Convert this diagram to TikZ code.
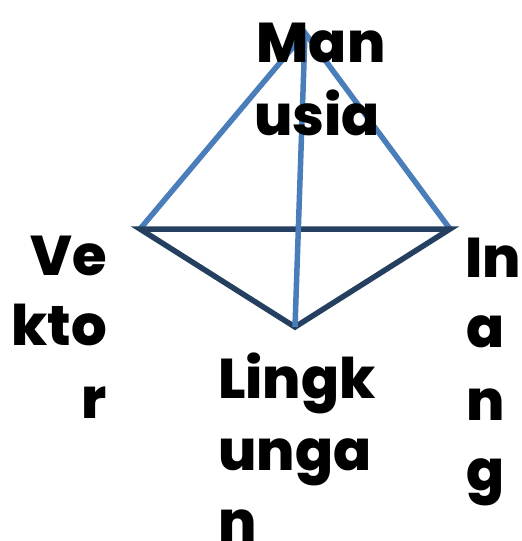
\documentclass[tikz,border=0pt]{standalone}
\usepackage{fontspec}
\setmainfont{Poppins}[BoldFont=* ExtraBold]
\definecolor{edgeblue}{HTML}{4A7EBB}
\definecolor{edgenavy}{HTML}{243F60}
\begin{document}
\begin{tikzpicture}[x=1pt,y=-1pt,
  blueline/.style={draw=edgeblue,line width=5.5pt,line cap=butt,line join=miter},
  navyline/.style={draw=edgenavy,line width=5.5pt,line join=miter},
  lbl/.style={inner sep=0pt,font=\fontsize{56}{72}\selectfont\bfseries,text=black}]
\useasboundingbox (0,0) rectangle (522,541);
\coordinate (apex) at (305,33);
\coordinate (L) at (140,229);
\coordinate (R) at (450,229);
\coordinate (B) at (295,327);
\draw[blueline] (L) -- (apex) -- (R);
\draw[navyline] (L) -- (R) -- (B) -- cycle;
\draw[blueline] (apex) -- (B);
% Manusia
\node[lbl,anchor=base] (man1) at (321,62) {Man};
\node[lbl,anchor=base] (man2) at (317,135) {usia};
% Vektor
\node[lbl,anchor=base east] (vek1) at (107,275) {Ve};
\node[lbl,anchor=base east] (vek2) at (107,345) {kto};
\node[lbl,anchor=base east] (vek3) at (107,418) {r};
% Lingkungan
\node[lbl,anchor=base west] (lin1) at (218,398) {Lingk};
\node[lbl,anchor=base west] (lin2) at (218,470) {unga};
\node[lbl,anchor=base west] (lin3) at (218,541) {n};
% Inang
\node[lbl,anchor=base] (ina1) at (493,277) {In};
\node[lbl,anchor=base] (ina2) at (486,347) {a};
\node[lbl,anchor=base] (ina3) at (486,420) {n};
\node[lbl,anchor=base] (ina4) at (486,490) {g};
\end{tikzpicture}
\end{document}
